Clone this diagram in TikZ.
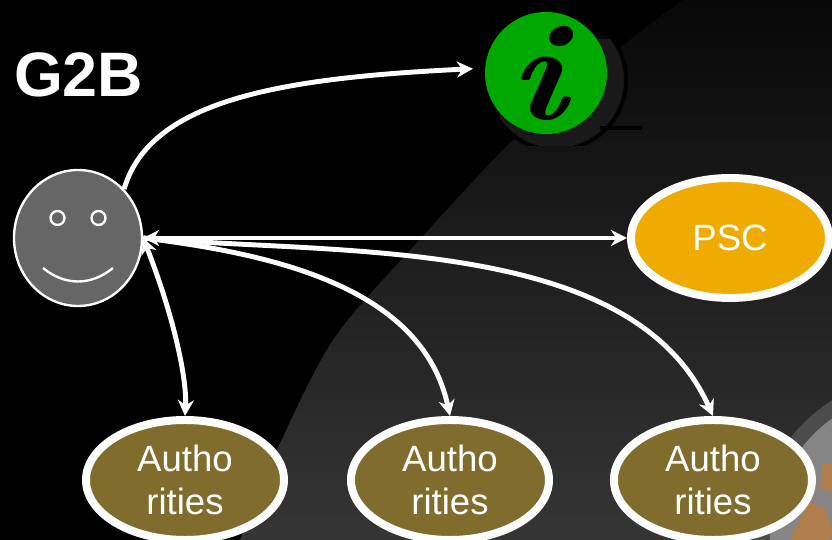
\documentclass[tikz,border=0pt]{standalone}
\usepackage{fontspec}
\newfontfamily\arialfont{Liberation Sans}
\usetikzlibrary{shapes.geometric, arrows.meta, positioning}
\definecolor{authfill}{HTML}{806D2E}
\definecolor{pscfill}{HTML}{F0AB00}
\definecolor{infofill}{HTML}{00A800}
\definecolor{facefill}{HTML}{666666}

\begin{document}
\begin{tikzpicture}[
    x=0.03cm, y=0.03cm,
    auth/.style={ellipse, draw=white, line width=6.8pt, fill=authfill, text=white, inner sep=0pt, minimum width=5.94cm, minimum height=3.6cm, align=center, font=\arialfont\fontsize{31.2}{37.4}\selectfont},
    psc/.style={auth, fill=pscfill, minimum height=3.6cm},
    face/.style={ellipse, draw=white, line width=2pt, fill=facefill, inner sep=0pt, minimum width=3.84cm, minimum height=4.08cm},
    eye/.style={circle, draw=white, line width=2pt, inner sep=0pt, minimum size=0.42cm},
    infobox/.style={circle, fill=infofill, text=black, inner sep=0pt, minimum size=3.66cm, font=\fontsize{118}{118}\selectfont\bfseries\itshape},
    arrow/.style={-{Stealth[length=0.48cm, width=0.48cm]}, line width=4.2pt, white},
    both/.style={{Stealth[length=0.48cm, width=0.48cm]}-{Stealth[length=0.48cm, width=0.48cm]}, line width=4.2pt, white}
]
    % background
    \useasboundingbox (0,0) rectangle (832,540);
    \fill[black] (0,0) rectangle (832,540);
    \shade[top color=black!97!white, bottom color=black!79!white]
        plot[smooth] coordinates {(683,540) (630,500) (520,407) (413,293) (333,200) (277,90) (240,0)}
        -- (832,0) -- (832,540) -- cycle;
    % coin
    \begin{scope}
        \clip (740,0) rectangle (832,145);
        \fill[black!70!white] (920,0) circle (165);
        \fill[black!48!white] (920,0) circle (150);
        \fill[orange!55!black!70!white] (822,75) -- (832,78) -- (832,48) -- (820,52) -- cycle;
        \fill[orange!55!black!70!white] (808,38) -- (825,32) -- (832,10) -- (830,0) -- (790,0) -- cycle;
    \end{scope}
    % shadow of the icon
    \begin{scope}
        \clip (500,394) rectangle (660,500);
        \draw[black, line width=3.4pt, fill=black!90!white] (556,460) circle (70);
    \end{scope}
    \draw[black, line width=3.4pt] (600,412) -- (642,412);

    \node[infobox] (info) at (546,467) {\hspace*{-0.5cm}\scalebox{1.15}[1]{i}};
    \node[anchor=west, text=white, font=\arialfont\fontsize{53.6}{60}\selectfont\bfseries] (title) at (10,465) {G2B};
    \node[face] (smiley) at (78,302) {};
    \node[eye] (lefteye) at (57.5,322) {};
    \node[eye] (righteye) at (98.5,322) {};
    \draw[white, line width=2pt] (43,272) .. controls (65,254) and (91,254) .. (113,272);

    \node[psc] (psc) at (730,302) {PSC};
    \node[auth] (authA) at (185,60) {Autho\\rities};
    \node[auth, right=1.77cm of authA] (authB) {Autho\\rities};
    \node[auth, right=1.71cm of authB] (authC) {Autho\\rities};

    \draw[arrow] (smiley.north east) .. controls (150,440) and (280,462) .. ([xshift=-0.36cm]info.176);
    \draw[both] (smiley.east) -- (psc.west);
    \draw[both] (smiley.east) .. controls (175,220) and (187,160) .. (authA.north);
    \draw[arrow] (smiley.east) to[out=-7, in=102, looseness=0.95] (authB.north);
    \draw[arrow] (smiley.east) to[out=-5, in=114, looseness=0.85] (authC.north);
\end{tikzpicture}
\end{document}
